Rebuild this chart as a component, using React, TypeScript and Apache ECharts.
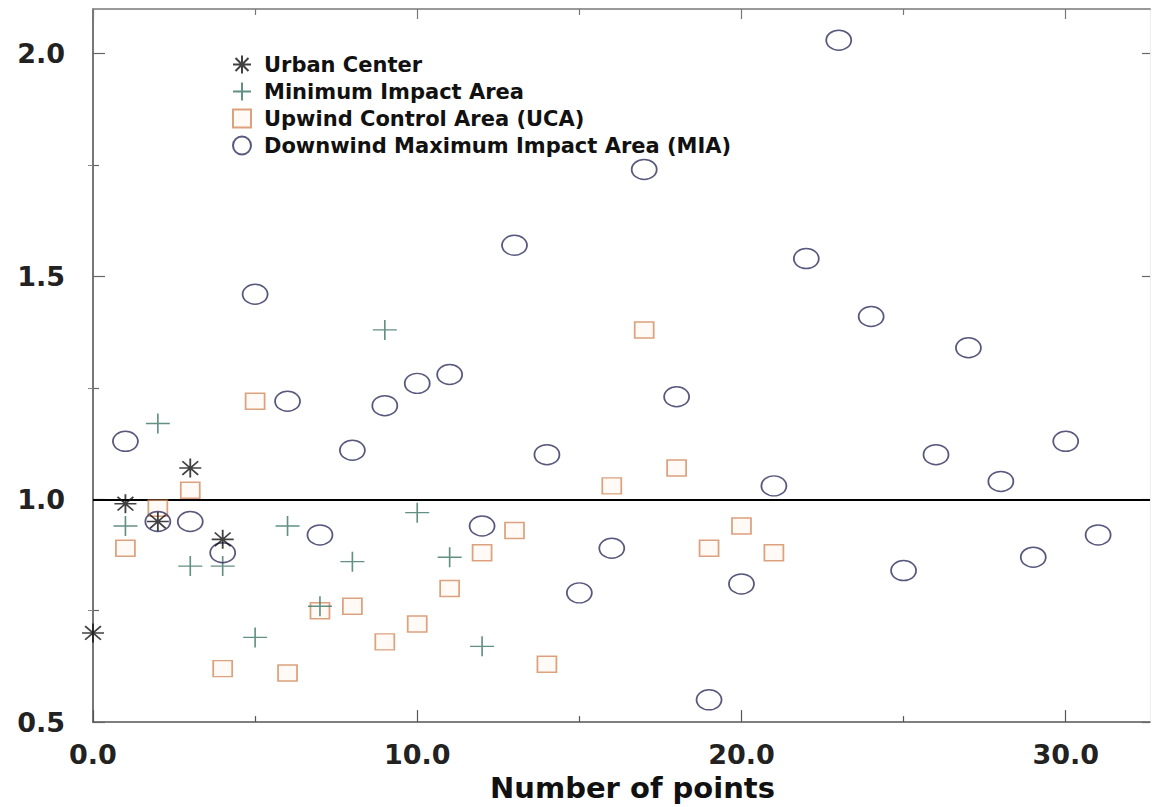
import React, { useEffect, useRef } from "react";
import * as echarts from "echarts";

// ---- data ----
const urbanX = [0, 1, 2, 3, 4];
const urbanY = [0.7, 0.99, 0.95, 1.07, 0.91];

const minX = [1, 2, 3, 4, 5, 6, 7, 8, 9, 10, 11, 12];
const minY = [0.94, 1.17, 0.85, 0.85, 0.69, 0.94, 0.76, 0.86, 1.38, 0.97, 0.87, 0.67];

const ucaX = [1, 2, 3, 4, 5, 6, 7, 8, 9, 10, 11, 12, 13, 14, 16, 17, 18, 19, 20, 21];
const ucaY = [0.89, 0.98, 1.02, 0.62, 1.22, 0.61, 0.75, 0.76, 0.68, 0.72, 0.8, 0.88, 0.93, 0.63, 1.03, 1.38, 1.07, 0.89, 0.94, 0.88];

const miaX = [1, 2, 3, 4, 5, 6, 7, 8, 9, 10, 11, 12, 13, 14, 15, 16, 17, 18, 19, 20, 21, 22, 23, 24, 25, 26, 27, 28, 29, 30, 31];
const miaY = [1.13, 0.95, 0.95, 0.88, 1.46, 1.22, 0.92, 1.11, 1.21, 1.26, 1.28, 0.94, 1.57, 1.1, 0.79, 0.89, 1.74, 1.23, 0.55, 0.81, 1.03, 1.54, 2.03, 1.41, 0.84, 1.1, 1.34, 1.04, 0.87, 1.13, 0.92];

const referenceY = 1.0;

const xMajorTicks = [0, 10, 20, 30];
const xTickLabels = ["0.0", "10.0", "20.0", "30.0"];
const xMinorTicks = [5, 15, 25];
const yMajorTicks = [0.5, 1.0, 1.5, 2.0];
const yTickLabels = ["0.5", "1.0", "1.5", "2.0"];
const yMinorTicks = [0.75, 1.25, 1.75];

const seriesNames = [
  "Urban Center",
  "Minimum Impact Area",
  "Upwind Control Area (UCA)",
  "Downwind Maximum Impact Area (MIA)",
];

const FONT = "DejaVu Sans";
const X_MIN = 0;
const X_MAX = 32.6;
const Y_MIN = 0.5;
const Y_MAX = 2.1;

const ASTERISK = "path://M-1,0L1,0M0,-1L0,1M-0.72,-0.72L0.72,0.72M-0.72,0.72L0.72,-0.72";
const PLUS = "path://M-1,0L1,0M0,-1L0,1";
const ELLIPSE = "path://M-1,0A1,1,0,1,0,1,0A1,1,0,1,0,-1,0Z";

function pairs(xs: number[], ys: number[]) {
  return xs.map((x, i) => [x, ys[i]]);
}

function labelFor(ticks: number[], labels: string[]) {
  return (v: number) => {
    const i = ticks.findIndex((t) => Math.abs(t - v) < 1e-6);
    return i >= 0 ? labels[i] : "";
  };
}

export default function App() {
  const ref = useRef<HTMLDivElement>(null);

  useEffect(() => {
    if (!ref.current) return;
    const chart = echarts.init(ref.current, undefined, { renderer: "svg" });

    const xBase = { type: "value" as const, min: X_MIN, max: X_MAX, gridIndex: 0, splitLine: { show: false } };
    const yBase = { type: "value" as const, min: Y_MIN, max: Y_MAX, gridIndex: 0, splitLine: { show: false } };

    const option: any = {
      animation: false,
      backgroundColor: "#ffffff",
      grid: { left: 93, right: 4, top: 9, bottom: 84, containLabel: false },
      legend: {
        orient: "vertical",
        left: 232,
        top: 54,
        padding: 0,
        itemWidth: 18,
        itemHeight: 18,
        itemGap: 6,
        data: seriesNames,
        textStyle: {
          fontFamily: FONT,
          fontWeight: "bold",
          fontSize: 21,
          color: "#111",
          padding: [0, 0, 0, 8],
        },
      },
      xAxis: [
        {
          ...xBase,
          position: "bottom",
          interval: 10,
          axisLine: { show: true, onZero: false, lineStyle: { color: "#555", width: 1.5 } },
          axisTick: { show: true, inside: true, length: 12, customValues: xMajorTicks, lineStyle: { color: "#555", width: 1.2 } },
          axisLabel: {
            show: true,
            customValues: xMajorTicks,
            formatter: labelFor(xMajorTicks, xTickLabels),
            margin: 19,
            fontFamily: FONT,
            fontWeight: "bold",
            fontSize: 27,
            color: "#222",
          },
          name: "Number of points",
          nameLocation: "middle",
          nameGap: 50,
          nameTextStyle: {
            fontFamily: FONT,
            fontWeight: "bold",
            fontSize: 29,
            color: "#111",
            padding: [0, 0, 0, 22],
          },
        },
        {
          ...xBase,
          position: "bottom",
          interval: 5,
          axisLine: { show: false },
          axisTick: { show: true, inside: true, length: 6, customValues: xMinorTicks, lineStyle: { color: "#555", width: 1.2 } },
          axisLabel: { show: false },
        },
        {
          ...xBase,
          position: "top",
          interval: 10,
          axisLine: { show: true, onZero: false, lineStyle: { color: "#999", width: 2 } },
          axisTick: { show: true, inside: true, length: 10, customValues: xMajorTicks, lineStyle: { color: "#777", width: 1.2 } },
          axisLabel: { show: false },
        },
        {
          ...xBase,
          position: "top",
          interval: 5,
          axisLine: { show: false },
          axisTick: { show: true, inside: true, length: 6, customValues: xMinorTicks, lineStyle: { color: "#777", width: 1.2 } },
          axisLabel: { show: false },
        },
      ],
      yAxis: [
        {
          ...yBase,
          position: "left",
          interval: 0.5,
          axisLine: { show: true, onZero: false, lineStyle: { color: "#777", width: 2 } },
          axisTick: { show: true, inside: true, length: 12, customValues: yMajorTicks, lineStyle: { color: "#666", width: 1.2 } },
          axisLabel: {
            show: true,
            customValues: yMajorTicks,
            formatter: labelFor(yMajorTicks, yTickLabels),
            margin: 28,
            fontFamily: FONT,
            fontWeight: "bold",
            fontSize: 27,
            color: "#222",
          },
        },
        {
          ...yBase,
          position: "left",
          interval: 0.25,
          axisLine: { show: false },
          axisTick: { show: true, inside: true, length: 6, customValues: yMinorTicks, lineStyle: { color: "#666", width: 1.2 } },
          axisLabel: { show: false },
        },
        {
          ...yBase,
          position: "right",
          interval: 0.5,
          axisLine: { show: true, onZero: false, lineStyle: { color: "#eeeeee", width: 1 } },
          axisTick: { show: true, inside: true, length: 8, customValues: yMajorTicks, lineStyle: { color: "#666", width: 1.2 } },
          axisLabel: { show: false },
        },
        {
          ...yBase,
          position: "right",
          interval: 0.25,
          axisLine: { show: false },
          axisTick: { show: true, inside: true, length: 5, customValues: yMinorTicks, lineStyle: { color: "#888", width: 1 } },
          axisLabel: { show: false },
        },
      ],
      series: [
        {
          name: seriesNames[2],
          type: "scatter",
          xAxisIndex: 0,
          yAxisIndex: 0,
          data: pairs(ucaX, ucaY),
          symbol: "rect",
          symbolSize: [19, 16],
          itemStyle: { color: "rgba(255,226,200,0.22)", borderColor: "#d38a5e", borderWidth: 1.6 },
          z: 2,
        },
        {
          name: seriesNames[1],
          type: "scatter",
          xAxisIndex: 0,
          yAxisIndex: 0,
          data: pairs(minX, minY),
          symbol: PLUS,
          symbolSize: [24, 20],
          itemStyle: { color: "rgba(0,0,0,0)", borderColor: "#3b7464", borderWidth: 1.5 },
          z: 3,
        },
        {
          name: seriesNames[3],
          type: "scatter",
          xAxisIndex: 0,
          yAxisIndex: 0,
          data: pairs(miaX, miaY),
          symbol: ELLIPSE,
          symbolSize: [25, 20],
          itemStyle: { color: "rgba(0,0,0,0)", borderColor: "#2e2e5c", borderWidth: 1.6 },
          z: 4,
          markLine: {
            silent: true,
            symbol: "none",
            label: { show: false },
            lineStyle: { color: "#000", width: 2, type: "solid" },
            data: [{ yAxis: referenceY }],
            z: 1,
          },
        },
        {
          name: seriesNames[0],
          type: "scatter",
          xAxisIndex: 0,
          yAxisIndex: 0,
          data: pairs(urbanX, urbanY),
          symbol: ASTERISK,
          symbolSize: [22, 19],
          itemStyle: { color: "rgba(0,0,0,0)", borderColor: "#111", borderWidth: 1.7 },
          z: 5,
        },
      ],
    };

    chart.setOption(option);
    return () => chart.dispose();
  }, []);

  return (
    <div
      ref={ref}
      style={{ position: "fixed", left: 0, top: 0, width: 1154, height: 807, background: "#fff" }}
    />
  );
}
